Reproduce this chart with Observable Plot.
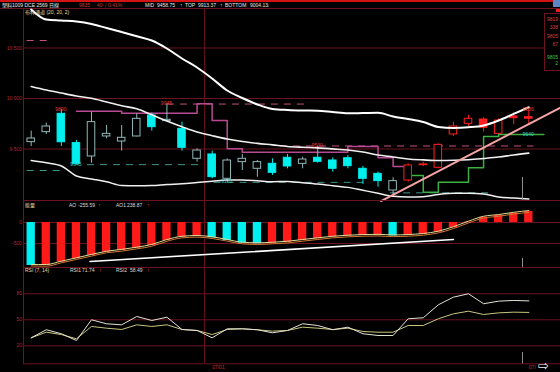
<!DOCTYPE html>
<html><head><meta charset="utf-8">
<script src="https://cdn.jsdelivr.net/npm/d3@7"></script>
<script src="https://cdn.jsdelivr.net/npm/@observablehq/plot@0.6"></script>
<style>
html,body{margin:0;padding:0;background:#000;}
#root{position:relative;width:560px;height:372px;overflow:hidden;background:#000;font-family:"Liberation Sans","Noto Sans CJK SC",sans-serif;}
.t{position:absolute;white-space:nowrap;font-size:5px;line-height:6px;}
</style></head><body><div id="root"></div>
<script>
// ---------- DATA ----------
const barIdx = d3.range(34);
const open  = [9568,9667,9848,9558,9426,9624,9574,9624,9832,9776,9700,9403,9446,9205,9370,9304,9353,9413,9353,9413,9386,9409,9304,9254,9089,9188,9347,9314,9644,9749,9792,9650,9822,9815];
const high  = [9677,9756,9890,9584,9865,9733,9733,9848,9855,9945,9766,9502,9479,9403,9446,9386,9403,9446,9419,9530,9413,9436,9327,9271,9215,9353,9370,9551,9766,9832,9809,9799,9860,9886];
const low   = [9525,9644,9525,9345,9360,9601,9479,9620,9677,9766,9479,9370,9205,9170,9287,9221,9238,9304,9304,9360,9271,9304,9149,9122,9030,9172,9327,9304,9624,9723,9667,9644,9740,9740];
const close = [9604,9723,9567,9350,9766,9650,9611,9799,9716,9789,9512,9485,9221,9386,9403,9370,9264,9327,9396,9373,9304,9330,9205,9182,9182,9337,9340,9541,9723,9799,9710,9782,9805,9800];

const bollUpper = [10881,10782,10772,10762,10738,10698,10658,10617,10574,10495,10396,10307,10198,10079,10005,9941,9896,9886,9881,9879,9866,9854,9856,9858,9822,9797,9767,9718,9708,9715,9733,9782,9848,9913];
const bollMid   = [10119,10084,10054,10025,10002,9965,9928,9898,9839,9777,9720,9668,9632,9599,9574,9556,9541,9525,9517,9511,9501,9490,9470,9440,9421,9401,9392,9386,9388,9394,9406,9420,9441,9459];
const bollLower = [9386,9363,9332,9233,9203,9175,9139,9137,9139,9149,9156,9168,9180,9193,9192,9185,9176,9178,9166,9153,9137,9120,9091,9062,9032,9025,9028,9050,9062,9061,9054,9025,9015,9004];

const bearStopIdx = [3,4,5,6,7,8,9,10,11,12,13,14,15,16,17,18,19,20,21,22,23,24,25];
const bearStopVal = [9874,9874,9874,9855,9855,9855,9855,9855,9947,9782,9502,9468,9468,9468,9468,9468,9468,9468,9525,9525,9413,9327,9327];
const bullStopIdx = [25,26,27,28,29,30,31,32,33,34];
const bullStopVal = [9238,9072,9171,9171,9314,9624,9644,9644,9644,9644];

const levelVal  = [10574,9287,9345,9945,9170,9530,9066];
const levelFrom = [-0.3,-0.3,3.7,9,12.1,16.5,23.8];
const levelTo   = [1.3,2.2,11.3,18.3,22,33.3,30.3];
const levelKind = ["high","low","low","high","low","high","low"];

const markIdx  = [2,3,9,13,19,33,33];
const markVal  = [9890,9345,9945,9170,9530,9886,9640];
const markKind = ["high","low","high","low","high","high","stop"];

const priceTrendIdx = [23.2,35.1];
const priceTrendVal = [8985,9910];

const aoVal  = [-1024,-1024,-945,-864,-786,-707,-667,-612,-548,-429,-350,-333,-364,-429,-493,-507,-493,-469,-429,-388,-350,-326,-310,-305,-320,-310,-286,-231,-126,10,126,167,221,262];
const aoLineA = [-1000,-1000,-920,-840,-760,-685,-640,-588,-522,-405,-328,-310,-340,-405,-470,-483,-470,-446,-405,-365,-327,-303,-287,-282,-296,-287,-262,-207,-100,32,148,190,243,285];
const aoLineB = [-1035,-1040,-960,-880,-800,-722,-683,-628,-565,-447,-366,-348,-380,-444,-508,-523,-508,-485,-445,-404,-366,-342,-326,-321,-336,-326,-302,-248,-144,-10,106,148,201,240];
const volTrendIdx = [3.9,28];
const volTrendVal = [-929,-405];

const rsi1 = [29.2,38.5,33.9,26.1,50.0,45.4,44.2,53.8,49.2,53.0,38.8,37.7,29.2,39.6,39.6,38.5,35.0,37.7,45.4,43.4,38.5,41.5,33.9,31.9,31.9,51.2,52.3,67.3,76.1,80.0,68.5,71.5,72.3,71.74];
const rsi2 = [29.2,35.7,33.0,28.1,42.3,40.3,38.8,44.2,42.3,44.2,38.8,37.7,33.0,38.8,39.6,38.5,36.9,37.7,41.5,40.3,38.8,40.3,36.5,35.7,35.7,43.4,43.4,51.2,56.9,59.9,56.1,58.0,58.8,58.49];

const priceTicks = [9500,10000,10500];
const volTicks = [0,-500];
const rsiTicks = [20,50,80];
const daySeparator = [11.5];
const dateTickIdx = [12,33];
const dateTickLabels = ["07/01","07/"];
const cursorIdx = [32.58];

const headerTexts = [
  ["塑料1009 DCE 2569 日線", 2, 5, "#e6e6e6"],
  ["9835", 79, 5, "#c23a3a"], ["40", 97, 5, "#c23a3a"], ["/", 105, 5, "#c23a3a"], ["0.41%", 108, 5, "#c23a3a"],
  ["MID", 145, 5, "#e6e6e6"], ["9458.75", 157, 5, "#e6e6e6"], ["↑", 180, 5, "#d0d0d0"],
  ["TOP", 185, 5, "#e6e6e6"], ["9913.37", 198, 5, "#e6e6e6"], ["↑", 220, 5, "#d0d0d0"],
  ["BOTTOM", 225, 5, "#e6e6e6"], ["9004.13", 250, 5, "#e6e6e6"], ["↓", 267, 5, "#d0d0d0"],
  ["布林通道 (20, 20, 2)", 25, 12, "#e4dca4"],
  ["能量", 25, 205, "#e4dca4"], ["AO", 69, 205, "#dcdcdc"], ["-255.59", 78, 205, "#dcdcdc"], ["↑", 98, 205, "#e03030"],
  ["AO1", 116, 205, "#dcdcdc"], ["238.87", 127, 205, "#dcdcdc"], ["↑", 147, 205, "#e03030"],
  ["RSI (7, 14)", 25, 270, "#e4dca4"], ["RSI1", 70, 270, "#dcdcdc"], ["71.74", 82, 270, "#dcdcdc"], ["↑", 99, 270, "#e03030"],
  ["RSI2", 116, 270, "#dcdcdc"], ["58.49", 130, 270, "#dcdcdc"], ["↑", 147, 270, "#e03030"]
];
const quoteTexts = [["9819",19,"#d04444"],["338",27,"#d04444"],["9805",36,"#d04444"],["67",44,"#d04444"],["9805",57,"#44c044"],["2",63,"#44c044"]];

// ---------- STYLE ----------
const FONT = '"Liberation Sans","Noto Sans CJK SC",sans-serif';
const GRID = "#6b1321", AXT = "#b3283a";
const CYAN = "#00f0f0", RED = "#ff1f1f", HOLLOW = "#8fb8b8";
const MAG = "#b84a93", PINK = "#c4507e", TEAL = "#3e9488", GREEN = "#3cb043", SALMON = "#f5a3a3";
const X = {domain: [-0.51, 34.04], range: [23, 544]};
const root = document.getElementById("root");

// ---------- TABLES ----------
const bars = barIdx.map(i => ({i, o: open[i], h: high[i], l: low[i], c: close[i]}));
const bullFrom = bullStopIdx[0];
const candleColor = d => d.i >= bullFrom ? RED : (d.c < d.o ? CYAN : HOLLOW);
const candleFill = d => d.c < d.o ? candleColor(d) : "#000";
const boll = barIdx.map(i => ({i, up: bollUpper[i], mid: bollMid[i], lo: bollLower[i]}));
const bearStop = bearStopIdx.map((i, k) => ({i, p: bearStopVal[k]}));
const bullStop = bullStopIdx.map((i, k) => ({i, p: bullStopVal[k]}));
const levels = levelVal.map((p, k) => ({p, i1: levelFrom[k], i2: levelTo[k], kind: levelKind[k]}));
const marks = markIdx.map((i, k) => ({i, p: markVal[k], kind: markKind[k], text: String(markVal[k])}));
const priceTrend = priceTrendIdx.map((i, k) => ({i, p: priceTrendVal[k]}));
const ao = barIdx.map(i => ({i, v: aoVal[i], a: aoLineA[i], b: aoLineB[i], up: i > 0 && aoVal[i] >= aoVal[i-1]}));
const volTrend = volTrendIdx.map((i, k) => ({i, v: volTrendVal[k]}));
const rsi = barIdx.map(i => ({i, r1: rsi1[i], r2: rsi2[i]}));

function place(svg, top) {
  svg.style.position = "absolute"; svg.style.left = "0px"; svg.style.top = top + "px";
  root.appendChild(svg);
}
const base = {width: 560, marginLeft: 23, marginRight: 0, marginTop: 0,
  style: {background: "transparent", overflow: "visible", fontFamily: FONT, fontSize: "5px"}};

// top bar + header line
const bar = document.createElement("div");
bar.style.cssText = "position:absolute;left:0;top:0;width:560px;height:2px;background:#d41414;";
root.appendChild(bar);
const hl = document.createElement("div");
hl.style.cssText = `position:absolute;left:0;top:8px;width:560px;height:1px;background:${GRID};`;
root.appendChild(hl);

// ---------- PRICE PANEL ----------
place(Plot.plot({...base, height: 192, marginBottom: 0,
  x: {...X, axis: null},
  y: {domain: [8990.1, 10891.1]},
  marks: [
    Plot.ruleY(priceTicks, {stroke: GRID}),
    Plot.ruleX(daySeparator, {stroke: GRID}),
    Plot.frame({stroke: GRID}),
    Plot.axisY({ticks: priceTicks, tickSize: 0, tickPadding: 1.5, fill: AXT, fontSize: 5, label: null}),
    Plot.link(levels, {x1: "i1", x2: "i2", y1: "p", y2: "p", stroke: d => d.kind === "high" ? PINK : TEAL, strokeDasharray: "7,6"}),
    Plot.line(bearStop, {x: "i", y: "p", curve: "step-after", stroke: MAG}),
    Plot.line(bullStop, {x: "i", y: "p", curve: "step-after", stroke: GREEN}),
    Plot.ruleX(bars, {x: "i", y1: "l", y2: "h", stroke: candleColor}),
    Plot.rect(bars, {x1: d => d.i - 0.25, x2: d => d.i + 0.25, y1: "o", y2: "c", fill: candleFill, stroke: candleColor}),
    Plot.line(boll, {x: "i", y: "lo", stroke: "#f0f0f0", strokeWidth: 1.5, curve: "monotone-x"}),
    Plot.line(boll, {x: "i", y: "mid", stroke: "#f0f0f0", strokeWidth: 1.6, curve: "monotone-x"}),
    Plot.line(boll, {x: "i", y: "up", stroke: "#ffffff", strokeWidth: 2, curve: "monotone-x"}),
    Plot.line(priceTrend, {x: "i", y: "p", stroke: SALMON, strokeWidth: 2}),
    Plot.ruleX(cursorIdx, {y1: 9218, y2: 8990, stroke: "#909090"}),
    Plot.text(marks, {x: "i", y: "p", text: "text", fontSize: 5,
      dx: d => d.kind === "stop" ? 7 : -3.5,
      dy: d => d.kind === "low" ? 4 : (d.kind === "stop" ? -3 : -3.5),
      fill: d => d.kind === "high" ? "#e83a3a" : (d.kind === "low" ? "#38c8c8" : "#34d0c0")})
  ]}), 8);

// ---------- AO PANEL ----------
place(Plot.plot({...base, height: 67, marginBottom: 0,
  x: {...X, axis: null},
  y: {domain: [-1071.4, 523.8]},
  marks: [
    Plot.ruleY(volTicks, {stroke: GRID}),
    Plot.ruleX(daySeparator, {stroke: GRID}),
    Plot.frame({stroke: GRID}),
    Plot.axisY({ticks: volTicks, tickSize: 0, tickPadding: 1.5, fill: AXT, fontSize: 5, label: null, tickFormat: d => String(d)}),
    Plot.rect(ao, {x1: d => d.i - 0.275, x2: d => d.i + 0.275, y1: 0, y2: "v", fill: d => d.up ? "#ff1a1a" : CYAN}),
    Plot.line(ao, {x: "i", y: "b", stroke: "#d07a34", strokeWidth: 1, curve: "monotone-x"}),
    Plot.line(ao, {x: "i", y: "a", stroke: "#e0dc98", strokeWidth: 1, curve: "monotone-x"}),
    Plot.line(volTrend, {x: "i", y: "v", stroke: "#ffffff", strokeWidth: 1.6}),
    Plot.ruleX(cursorIdx, {y1: -857, y2: -1071, stroke: "#909090"})
  ]}), 200);

// ---------- RSI PANEL ----------
place(Plot.plot({...base, height: 105, marginBottom: 8.7,
  x: {...X},
  y: {domain: [-0.75, 110.3]},
  marks: [
    Plot.ruleY(rsiTicks, {stroke: GRID}),
    Plot.ruleX(daySeparator, {stroke: GRID}),
    Plot.frame({stroke: GRID}),
    Plot.axisY({ticks: rsiTicks, tickSize: 0, tickPadding: 1.5, fill: AXT, fontSize: 5, label: null}),
    Plot.axisX({ticks: dateTickIdx, tickFormat: d => dateTickLabels[dateTickIdx.indexOf(d)], tickSize: 0, tickPadding: 1.2,
      textAnchor: "start", fill: "#d03030", fontSize: 5, label: null}),
    Plot.line(rsi, {x: "i", y: "r2", stroke: "#c8c67c", strokeWidth: 1}),
    Plot.line(rsi, {x: "i", y: "r1", stroke: "#e2e2d4", strokeWidth: 1}),
    Plot.ruleX(cursorIdx, {y1: 12.3, y2: -0.75, stroke: "#909090"})
  ]}), 267);

// ---------- TEXTS ----------
for (const [txt, x, y, color] of headerTexts) {
  const d = document.createElement("div");
  d.className = "t"; d.textContent = txt;
  d.style.left = x + "px"; d.style.top = (y - 3) + "px"; d.style.color = color;
  root.appendChild(d);
}
const box = document.createElement("div");
box.style.cssText = `position:absolute;left:544px;top:13px;width:15px;height:56px;background:#000;border:1px solid ${GRID};`;
root.appendChild(box);
for (const [txt, y, color] of quoteTexts) {
  const d = document.createElement("div");
  d.className = "t"; d.textContent = txt;
  d.style.right = "2px"; d.style.top = (y - 3) + "px"; d.style.color = color;
  root.appendChild(d);
}
const icon = document.createElement("div");
icon.style.cssText = "position:absolute;left:553px;top:0;width:7px;height:7px;background:#5c86c4;";
root.appendChild(icon);
const red = document.createElement("div");
red.style.cssText = "position:absolute;left:556px;top:9px;width:4px;height:3px;background:#e02020;";
root.appendChild(red);
const arrow = document.createElement("div");
arrow.className = "t";
arrow.textContent = "⇨";
arrow.style.cssText += "left:538px;top:359px;font-size:13px;line-height:14px;color:#f0f0f0;font-family:'DejaVu Sans';";
root.appendChild(arrow);
</script></body></html>
